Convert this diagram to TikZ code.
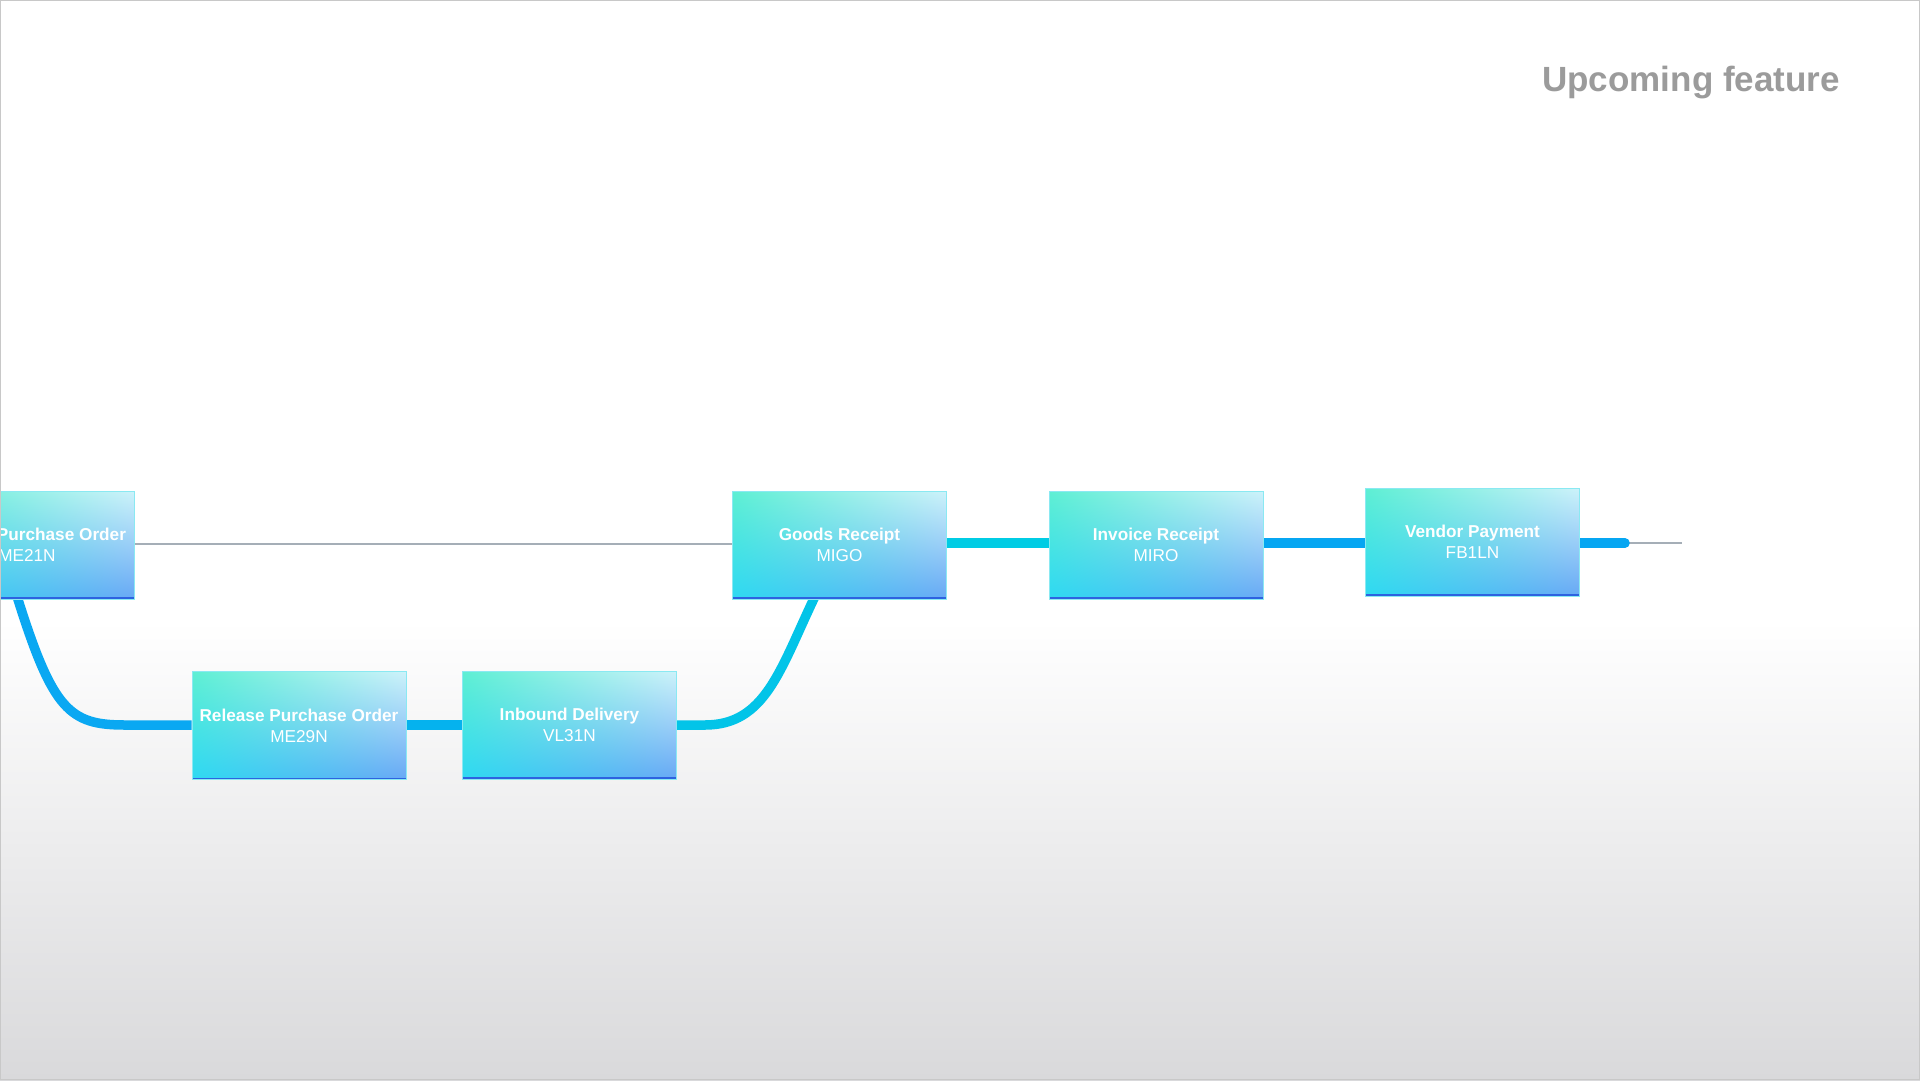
\documentclass[tikz,border=0pt]{standalone}
\usepackage{fontspec}
\setmainfont{Liberation Sans}
\usetikzlibrary{shadings}
\definecolor{bxul}{HTML}{5EEFD3}
\definecolor{bxur}{HTML}{CDF2FA}
\definecolor{bxll}{HTML}{2ED9F2}
\definecolor{bxlr}{HTML}{68A8F5}
\definecolor{bxedge}{HTML}{8AE9F2}
\definecolor{bxbottom}{HTML}{2D62E0}
\definecolor{thingray}{HTML}{A5AEB7}
\definecolor{cA}{HTML}{0AA8F2}
\definecolor{cB}{HTML}{05B2EE}
\definecolor{cC}{HTML}{02C4E8}
\definecolor{cD}{HTML}{00CCE4}
\definecolor{cE}{HTML}{06A6F2}
\definecolor{titlegray}{HTML}{9B9B9B}
\definecolor{bggray}{HTML}{D9D9DB}
\definecolor{midgray}{HTML}{F4F4F4}
\definecolor{framegray}{HTML}{C8C8C8}
\pgfdeclarelayer{back}
\pgfdeclarelayer{mid}
\pgfsetlayers{back,mid,main}
\tikzset{
  stepbox/.style={shade, upper left=bxul, upper right=bxur, lower left=bxll, lower right=bxlr,
    draw=bxedge, line width=1pt, minimum width=214pt, minimum height=108pt, inner sep=0pt,
    text=white, align=center, font=\fontsize{17.2}{21}\selectfont,
    path picture={\draw[bxbottom, line width=4pt] (path picture bounding box.south west) -- (path picture bounding box.south east);}},
  thinline/.style={thingray, line width=2.3pt},
  thickline/.style={line width=9.5pt},
  titletext/.style={text=titlegray, font=\fontsize{35}{40}\selectfont\bfseries, inner sep=0pt}
}
\begin{document}
\begin{tikzpicture}[x=1pt,y=-1pt]
\useasboundingbox (0,0) rectangle (1920,1080);
\clip (0,0) rectangle (1920,1080);
\begin{pgfonlayer}{back}
  \fill[white] (0,0) rectangle (1920,1080);
  \shade[top color=white, middle color=midgray, bottom color=bggray] (0,620) rectangle (1920,1080);
\end{pgfonlayer}

\node[titletext, anchor=east] (title) at (1840,83) {Upcoming feature};

\node[stepbox] (po) at (27,545) {\makebox[198pt][r]{\bfseries Purchase Order}\\ME21N};
\node[stepbox] (rpo) at (299,725.5) {\textbf{Release Purchase Order}\\ME29N};
\node[stepbox] (ibd) at (569.5,725) {\textbf{Inbound Delivery}\\VL31N};
\node[stepbox] (gr) at (839.5,545) {\textbf{Goods Receipt}\\MIGO};
\node[stepbox] (ir) at (1156,545) {\textbf{Invoice Receipt}\\MIRO};
\node[stepbox] (vp) at (1472.5,542) {\textbf{Vendor Payment}\\FB1LN};
\coordinate (tailA) at (1625,543);
\coordinate (tailB) at (1682,543);

\begin{pgfonlayer}{mid}
  \draw[thinline] (po.east |- 0,544) -- (gr.west |- 0,544);
  \draw[thickline, cA] ([xshift=-12pt,yshift=10pt]po.south) -- ([xshift=-9pt]po.south)
     .. controls +(35,111) and +(-55,0) .. (125,725) -- (rpo.west |- 0,725);
  \draw[thickline, cB] (rpo.east |- 0,725) -- (ibd.west |- 0,725);
  \draw[thickline, cC] (ibd.east |- 0,725) -- (705,725) .. controls (765,725) and (780,670) .. ([xshift=-26pt]gr.south) -- ([xshift=-21pt,yshift=10pt]gr.south);
  \draw[thickline, cD] (gr.east |- 0,543) -- (ir.west |- 0,543);
  \draw[thickline, cE] (ir.west |- 0,543) -- (vp.west |- 0,543);
  \draw[thinline] (tailA) -- (tailB);
  \draw[thickline, cE, line cap=round] (vp.east |- tailA) -- (tailA);
\end{pgfonlayer}

\draw[framegray, line width=1.2pt] (0.6,0.6) rectangle (1919.4,1079.4);
\end{tikzpicture}
\end{document}
